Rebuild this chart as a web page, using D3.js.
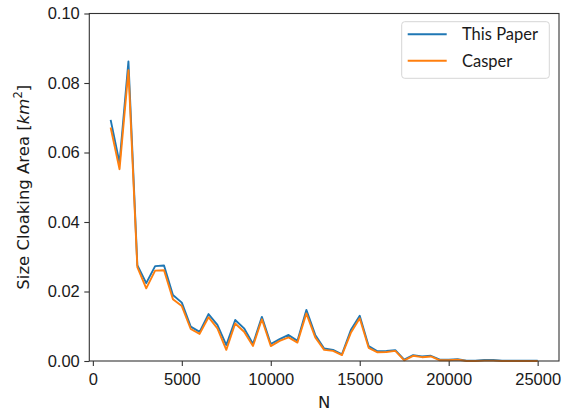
<!DOCTYPE html>
<html>
<head>
<meta charset="utf-8">
<script src="https://cdn.jsdelivr.net/npm/d3@7"></script>
<style>
  body { margin: 0; background: #fff; }
  svg { display: block; font-family: "DejaVu Sans", sans-serif; }
  .tick text { font-size: 16.5px; fill: #1a1a1a; }
  .tick line { stroke: #333; stroke-width: 1.1; }
</style>
</head>
<body>
<svg width="576" height="412"></svg>
<script>
// number of users N
const nValues = [1000, 1500, 2000, 2500, 3000, 3500, 4000, 4500, 5000, 5500,
    6000, 6500, 7000, 7500, 8000, 8500, 9000, 9500, 10000, 10500,
    11000, 11500, 12000, 12500, 13000, 13500, 14000, 14500, 15000, 15500,
    16000, 16500, 17000, 17500, 18000, 18500, 19000, 19500, 20000, 20500,
    21000, 21500, 22000, 22500, 23000, 23500, 24000, 24500, 25000];

// cloaking area size (km^2)
const thisPaper = [0.0694, 0.0570, 0.0862, 0.0276, 0.0224, 0.0273, 0.0275, 0.0190, 0.0168, 0.0099,
    0.0084, 0.0135, 0.0104, 0.0046, 0.0118, 0.0094, 0.0049, 0.0127, 0.0049, 0.0063,
    0.0075, 0.0058, 0.0147, 0.0075, 0.0036, 0.0032, 0.0019, 0.0089, 0.0130, 0.0043,
    0.0028, 0.0029, 0.0031, 0.0004, 0.0017, 0.0013, 0.0015, 0.0004, 0.0004, 0.0005,
    0.0001, 0.0001, 0.0003, 0.0003, 0.0001, 0.0001, 0.0001, 0.0001, 0.0001];

const casper = [0.0672, 0.0552, 0.0837, 0.0270, 0.0209, 0.0260, 0.0261, 0.0178, 0.0158, 0.0092,
    0.0078, 0.0126, 0.0094, 0.0032, 0.0108, 0.0084, 0.0043, 0.0120, 0.0043, 0.0058,
    0.0068, 0.0053, 0.0137, 0.0068, 0.0032, 0.0029, 0.0017, 0.0081, 0.0123, 0.0038,
    0.0025, 0.0026, 0.0029, 0.0002, 0.0015, 0.0011, 0.0013, 0.0002, 0.0002, 0.0004,
    0.0000, 0.0000, 0.0001, 0.0001, 0.0000, 0.0000, 0.0000, 0.0000, 0.0000];

const xTicks = [0, 5000, 10000, 15000, 20000, 25000];
const yTicks = [0, 0.02, 0.04, 0.06, 0.08, 0.10];

const seriesNames = ['This Paper', 'Casper'];
const colors = ['#1f77b4', '#ff7f0e'];

const margin = { left: 89.3, right: 17, top: 13.5, bottom: 51 };
const svg = d3.select('svg');
const width = +svg.attr('width');
const height = +svg.attr('height');
const innerW = width - margin.left - margin.right;
const innerH = height - margin.top - margin.bottom;

const x = d3.scaleLinear().domain([-200, 26200]).range([0, innerW]);
const y = d3.scaleLinear().domain([0, 0.1]).range([innerH, 0]);

const g = svg.append('g').attr('transform', `translate(${margin.left},${margin.top})`);

// axes
const xAxis = g.append('g')
    .attr('transform', `translate(0,${innerH})`)
    .call(d3.axisBottom(x).tickValues(xTicks).tickFormat(d3.format('d')).tickSize(5).tickPadding(7));
xAxis.select('.domain').remove();

const yAxis = g.append('g')
    .call(d3.axisLeft(y).tickValues(yTicks).tickFormat(d3.format('.2f')).tickSize(5).tickPadding(4.5));
yAxis.select('.domain').remove();

// lines
const line = d3.line()
    .x((d, i) => x(nValues[i]))
    .y(d => y(d));

[thisPaper, casper].forEach((series, i) => {
    g.append('path')
        .datum(series)
        .attr('fill', 'none')
        .attr('stroke', colors[i])
        .attr('stroke-width', 1.9)
        .attr('stroke-linejoin', 'round')
        .attr('d', line);
});

// frame
g.append('rect')
    .attr('width', innerW)
    .attr('height', innerH)
    .attr('fill', 'none')
    .attr('stroke', '#333')
    .attr('stroke-width', 1.1);

// axis labels
svg.append('text')
    .attr('x', margin.left + innerW / 2)
    .attr('y', 408)
    .attr('text-anchor', 'middle')
    .attr('font-size', '16.5px')
    .attr('fill', '#1a1a1a')
    .text('N');

const yLabel = svg.append('text')
    .attr('transform', `translate(29,${margin.top + innerH / 2}) rotate(-90)`)
    .attr('text-anchor', 'middle')
    .attr('font-size', '16.5px')
    .attr('fill', '#1a1a1a');
yLabel.append('tspan').text('Size Cloaking Area [');
yLabel.append('tspan').attr('font-style', 'italic').text('km');
yLabel.append('tspan').attr('font-size', '11.5px').attr('dy', '-7').text('2');
yLabel.append('tspan').attr('dy', '7').text(']');

// legend
const legend = svg.append('g').attr('transform', 'translate(401.7,21.7)');
legend.append('rect')
    .attr('width', 147.6)
    .attr('height', 56.6)
    .attr('rx', 3)
    .attr('fill', 'rgba(255,255,255,0.8)')
    .attr('stroke', '#d6d6d6')
    .attr('stroke-width', 1);

seriesNames.forEach((name, i) => {
    const row = legend.append('g').attr('transform', `translate(0,${12.6 + i * 26.4})`);
    row.append('line')
        .attr('x1', 6).attr('x2', 45)
        .attr('stroke', colors[i])
        .attr('stroke-width', 1.9);
    row.append('text')
        .attr('x', 60.3)
        .attr('dy', '0.36em')
        .attr('font-family', 'Lato, sans-serif')
        .attr('font-size', '16.5px')
        .attr('fill', '#1a1a1a')
        .text(name);
});
</script>
</body>
</html>
